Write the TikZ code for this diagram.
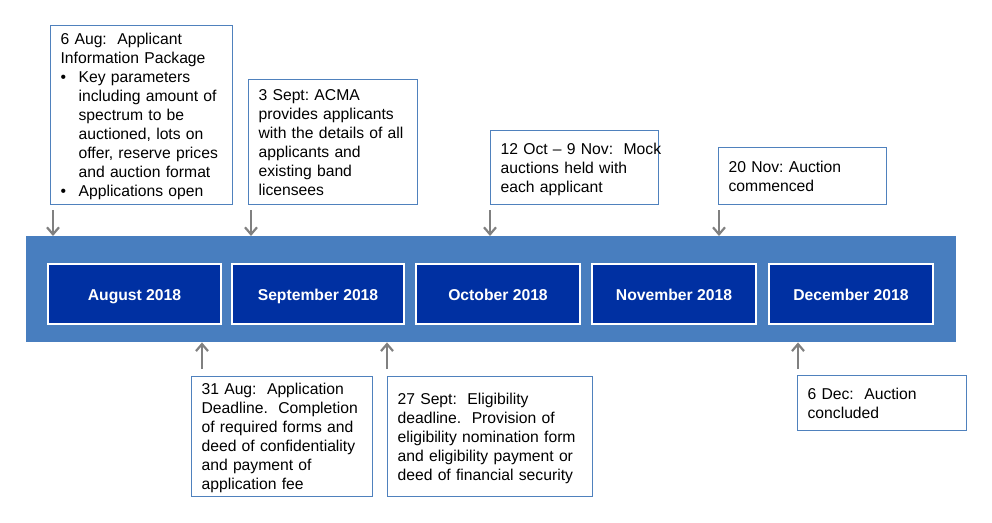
\documentclass[tikz,border=0pt]{standalone}
\usepackage{fontspec}
\setmainfont{Liberation Sans}
\usetikzlibrary{arrows.meta}
\frenchspacing
\definecolor{bandblue}{RGB}{72,126,191}
\definecolor{monthblue}{RGB}{0,48,162}
\definecolor{boxline}{RGB}{79,129,189}
\definecolor{arrgray}{RGB}{128,128,128}
\newcommand{\tlines}[1]{\raisebox{-2pt}[\height][\depth]{\begin{tabular}{@{}l@{}}#1\end{tabular}}}
\newcommand{\bul}{\makebox[18pt][l]{\hspace{0pt}•}}
\newcommand{\ind}{\hspace*{18pt}}
\begin{document}
\begin{tikzpicture}[x=1pt,y=-1pt,
  note/.style={draw=boxline, line width=1.2pt, fill=white, anchor=north west,
    inner xsep=10pt, inner ysep=0pt, align=left,
    font=\fontsize{15.7}{19}\selectfont},
  month/.style={draw=white, line width=2pt, fill=monthblue, anchor=north west,
    minimum height=60pt, inner sep=0pt, text=white,
    text height=14pt, text depth=1pt,
    font=\fontsize{15.7}{19}\selectfont\bfseries},
  arr/.style={draw=arrgray, line width=2.2pt, -{Straight Barb[length=7pt,width=12pt]}}
]
\useasboundingbox (0,0) rectangle (992,522);

% band
\node[fill=bandblue, anchor=north west, minimum width=930pt, minimum height=106pt, inner sep=0pt] (band) at (26,236) {};

% months
\node[month, minimum width=173pt] (aug) at (47,263) {August 2018};
\node[month, minimum width=172pt] (sep) at (231,263) {September 2018};
\node[month, minimum width=164pt] (oct) at (415,263) {October 2018};
\node[month, minimum width=164pt] (nov) at (591,263) {November 2018};
\node[month, minimum width=164pt] (dec) at (768,263) {December 2018};

% top notes
\node[note, text width=162pt, minimum height=179pt] (b1) at (50,25) {\tlines{%
6 Aug:~ Applicant\\
Information Package\\
\bul Key parameters\\
\ind including amount of\\
\ind spectrum to be\\
\ind auctioned, lots on\\
\ind offer, reserve prices\\
\ind and auction format\\
\bul Applications open}};

\node[note, text width=149pt, minimum height=125pt] (b2) at (248,79) {\tlines{%
3 Sept: ACMA\\
provides applicants\\
with the details of all\\
applicants and\\
existing band\\
licensees}};

\node[note, text width=148pt, minimum height=74pt] (b3) at (490,130) {\tlines{%
12 Oct -- 9 Nov:~ Mock\\
auctions held with\\
each applicant}};

\node[note, text width=148pt, minimum height=57pt] (b4) at (718,147) {\tlines{%
20 Nov: Auction\\
commenced}};

% bottom notes
\node[note, text width=161pt, minimum height=120pt] (b5) at (191,376) {\tlines{%
31 Aug:~ Application\\
Deadline.~ Completion\\
of required forms and\\
deed of confidentiality\\
and payment of\\
application fee}};

\node[note, text width=185pt, minimum height=120pt] (b6) at (387,376) {\tlines{%
27 Sept:~ Eligibility\\
deadline.~ Provision of\\
eligibility nomination form\\
and eligibility payment or\\
deed of financial security}};

\node[note, text width=149pt, minimum height=55pt] (b7) at (797,375) {\tlines{%
6 Dec:~ Auction\\
concluded}};

% arrows down
\draw[arr] ([shift={(3,5)}]b1.south west) -- ([xshift=3]b1.south west |- band.north);
\draw[arr] ([shift={(3,5)}]b2.south west) -- ([xshift=3]b2.south west |- band.north);
\draw[arr] ([shift={(0,5)}]b3.south west) -- (b3.south west |- band.north);
\draw[arr] ([shift={(1,5)}]b4.south west) -- ([xshift=1]b4.south west |- band.north);

% arrows up
\draw[arr] ([shift={(11,-7)}]b5.north west) -- ([xshift=11]b5.north west |- band.south);
\draw[arr] ([shift={(0,-7)}]b6.north west) -- (b6.north west |- band.south);
\draw[arr] ([shift={(1,-6)}]b7.north west) -- ([xshift=1]b7.north west |- band.south);
\end{tikzpicture}
\end{document}
